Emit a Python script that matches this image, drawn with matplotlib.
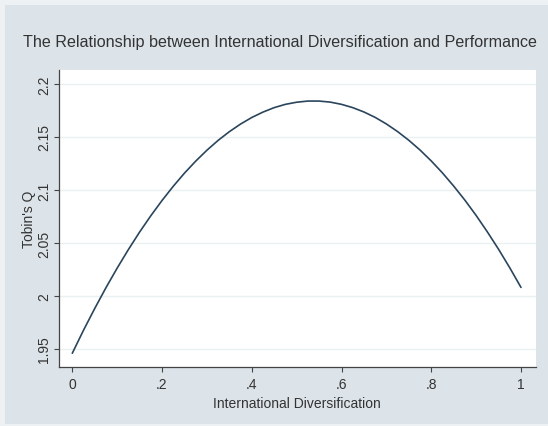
import matplotlib
matplotlib.use("Agg")
import matplotlib.pyplot as plt
from matplotlib.patches import Rectangle

# Data (fitted Tobin's Q by international diversification)
intl_div = [0.000, 0.025, 0.050, 0.075, 0.100, 0.125, 0.150, 0.175, 0.200, 0.225,
            0.250, 0.275, 0.300, 0.325, 0.350, 0.375, 0.400, 0.425, 0.450, 0.475,
            0.500, 0.525, 0.550, 0.575, 0.600, 0.625, 0.650, 0.675, 0.700, 0.725,
            0.750, 0.775, 0.800, 0.825, 0.850, 0.875, 0.900, 0.925, 0.950, 0.975,
            1.000]
tobins_q = [1.9460, 1.9677, 1.9882, 2.0078, 2.0263, 2.0438, 2.0603, 2.0757, 2.0901, 2.1035,
            2.1159, 2.1272, 2.1375, 2.1468, 2.1550, 2.1622, 2.1684, 2.1735, 2.1777, 2.1808,
            2.1828, 2.1839, 2.1839, 2.1829, 2.1808, 2.1777, 2.1736, 2.1685, 2.1623, 2.1551,
            2.1469, 2.1377, 2.1274, 2.1161, 2.1037, 2.0904, 2.0760, 2.0605, 2.0441, 2.0266,
            2.0081]
x_ticks = [0, 0.2, 0.4, 0.6, 0.8, 1.0]
x_tick_labels = ["0", ".2", ".4", ".6", ".8", "1"]
y_ticks = [1.95, 2.0, 2.05, 2.1, 2.15, 2.2]
y_tick_labels = ["1.95", "2", "2.05", "2.1", "2.15", "2.2"]

plt.rcParams['font.family'] = ['Liberation Sans', 'DejaVu Sans']

W, H = 548, 427
fig = plt.figure(figsize=(W / 100, H / 100), dpi=100)
fig.patch.set_facecolor('#eef1f3')
fig.patches.append(Rectangle((5 / W, 2 / H), (W - 5) / W, (H - 8) / H,
                             transform=fig.transFigure, facecolor='#dce4e9',
                             edgecolor='none', zorder=-5))

ax_w = 535.7 - 58.7
ax = fig.add_axes([58.7 / W, (H - 368) / H, ax_w / W, (368 - 71) / H])
ax.set_zorder(2)
ax.set_facecolor('white')
ax.plot(intl_div, tobins_q, color='#2a455c', lw=1.2, zorder=3,
        solid_joinstyle='round', solid_capstyle='round')

ax.set_xlim(-0.0303, 1.0328)
ax.set_ylim(1.933, 2.2132)
ax.set_xticks(x_ticks)
ax.set_xticklabels(x_tick_labels)
ax.set_yticks(y_ticks)
ax.set_yticklabels(y_tick_labels, rotation=90, va='center')
ax.grid(axis='y', color='#eaf1f2', lw=1.0)
ax.set_axisbelow(True)
for s in ['top', 'right']:
    ax.spines[s].set_visible(False)
for s in ['left', 'bottom']:
    ax.spines[s].set_color('#444444')
    ax.spines[s].set_linewidth(0.9)
ax.tick_params(axis='both', direction='out', length=3.6, width=0.8, color='#444444',
               labelcolor='#333333', labelsize=10)
ax.tick_params(axis='y', pad=2)
ax.set_xlabel("International Diversification", fontsize=10, color='#333333', labelpad=4)
ax.set_ylabel("Tobin's Q", fontsize=10, color='#333333')
ax.yaxis.set_label_coords((35.5 - 58.7) / ax_w, 0.5)

fig.text(280 / W, 1 - 43 / H, "The Relationship between International Diversification and Performance",
         ha='center', va='center', fontsize=11.6, color='#333333')

fig.savefig("out.png", dpi=100, facecolor=fig.get_facecolor())
